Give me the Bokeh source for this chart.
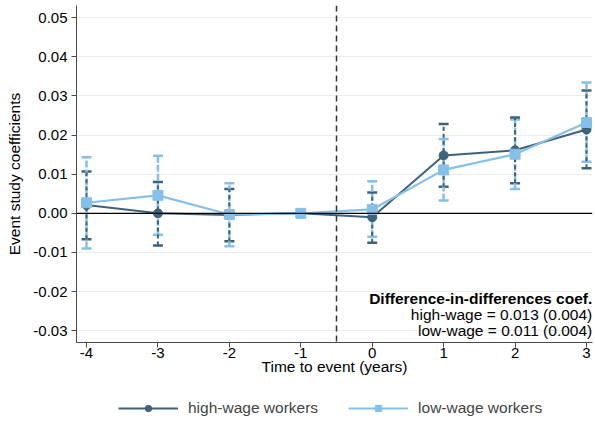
from bokeh.plotting import figure
from bokeh.layouts import column
from bokeh.models import (FixedTicker, PrintfTickFormatter, Span, Legend, LegendItem,
                          ColumnDataSource, Whisker, Label)
from bokeh.embed import file_html
from bokeh.resources import INLINE

# ---- data ----
periods = [-4, -3, -2, -1, 0, 1, 2, 3]
high_coef = [0.0021, 0.0000, -0.0004, 0.0, -0.0010, 0.0148, 0.0161, 0.0214]
high_lo = [-0.0066, -0.0082, -0.0071, None, -0.0075, 0.0068, 0.0077, 0.0115]
high_hi = [0.0107, 0.0080, 0.0062, None, 0.0053, 0.0228, 0.0245, 0.0314]
low_coef = [0.0027, 0.0046, -0.0003, 0.0, 0.0010, 0.0111, 0.0151, 0.0232]
low_lo = [-0.0090, -0.0055, -0.0084, None, -0.0060, 0.0033, 0.0062, 0.0132]
low_hi = [0.0143, 0.0147, 0.0077, None, 0.0082, 0.0190, 0.0240, 0.0334]
y_ticks = [-0.03, -0.02, -0.01, 0.0, 0.01, 0.02, 0.03, 0.04, 0.05]
x_ticks = [-4, -3, -2, -1, 0, 1, 2, 3]
event_line = -0.5
did_title = "Difference-in-differences coef."
did_high = "high-wage = 0.013 (0.004)"
did_low = "low-wage = 0.011 (0.004)"
series_names = ["high-wage workers", "low-wage workers"]

DARK = "#3e627b"
LIGHT = "#85c0e9"
FONT = "Liberation Sans"

p = figure(frame_width=516, frame_height=337, output_backend="svg", toolbar_location=None,
           x_range=(-4.14, 3.084), y_range=(-0.033, 0.0531),
           min_border_left=76, min_border_right=3, min_border_top=5, min_border_bottom=48)
p.outline_line_color = None
p.background_fill_color = "white"

# axes
p.xaxis.ticker = FixedTicker(ticks=x_ticks)
p.xaxis.formatter = PrintfTickFormatter(format="%d")
p.yaxis.ticker = FixedTicker(ticks=y_ticks)
p.yaxis.formatter = PrintfTickFormatter(format="%.2f")
for ax in (p.xaxis[0], p.yaxis[0]):
    ax.major_label_text_font = FONT
    ax.major_label_text_font_size = "15px"
    ax.major_label_text_color = "black"
    ax.axis_label_text_font = FONT
    ax.axis_label_text_font_size = "15.5px"
    ax.axis_label_text_font_style = "normal"
    ax.axis_label_text_color = "black"
    ax.axis_line_color = "#4a4a4a"
    ax.major_tick_line_color = "#4a4a4a"
    ax.major_tick_out = 5
    ax.major_tick_in = 0
    ax.minor_tick_line_color = None
p.xaxis.axis_label = "Time to event (years)"
p.yaxis.axis_label = "Event study coefficients"
p.xaxis.major_label_standoff = 0
p.xaxis.axis_label_standoff = -3
p.yaxis.major_label_standoff = 4
p.yaxis.axis_label_standoff = 7

p.xgrid.grid_line_color = None
p.ygrid.ticker = FixedTicker(ticks=y_ticks)
p.ygrid.grid_line_color = "#e6eef3"
p.ygrid.grid_line_width = 1

# reference lines
p.add_layout(Span(location=0, dimension="width", line_color="black", line_width=1.2))
p.add_layout(Span(location=event_line, dimension="height", line_color="#333333",
                  line_width=1.5, line_dash="6 4"))

# confidence intervals
def ci_source(lo, hi):
    xs, los, his = [], [], []
    for x, l, h in zip(periods, lo, hi):
        if l is not None:
            xs.append(x); los.append(l); his.append(h)
    return ColumnDataSource(dict(x=xs, lo=los, hi=his))

src_low = ci_source(low_lo, low_hi)
src_high = ci_source(high_lo, high_hi)

p.segment(x0="x", y0="lo", x1="x", y1="hi", source=src_low, line_color=LIGHT,
          line_width=2.5, line_dash="7 2")
p.segment(x0="x", y0="lo", x1="x", y1="hi", source=src_high, line_color=DARK,
          line_width=2, line_dash="4 3")
for src, col in ((src_low, LIGHT), (src_high, DARK)):
    w = Whisker(base="x", lower="lo", upper="hi", source=src, line_color=col,
                line_width=0, line_alpha=0)
    w.upper_head.size = 10
    w.lower_head.size = 10
    w.upper_head.line_color = col
    w.lower_head.line_color = col
    w.upper_head.line_width = 2.5
    w.lower_head.line_width = 2.5
    p.add_layout(w)

# series
HL = dict(line_color=DARK, line_width=2)
HS = dict(marker="circle", size=9, fill_color=DARK, line_color=DARK)
LL = dict(line_color=LIGHT, line_width=2.2)
LS = dict(marker="square", size=10, fill_color=LIGHT, line_color=LIGHT)
p.line(periods, high_coef, **HL)
p.scatter(periods, high_coef, **HS)
p.line(periods, low_coef, **LL)
p.scatter(periods, low_coef, **LS)

# DiD annotation
for txt, yv, style in ((did_title, -0.0217, "bold"), (did_high, -0.0258, "normal"),
                       (did_low, -0.0299, "normal")):
    p.add_layout(Label(x=3.08, y=yv, text=txt, text_align="right", text_baseline="middle",
                       text_font=FONT, text_font_size="15.5px", text_font_style=style,
                       text_color="black"))

# legend strip (separate figure below the plot; legend proxies hold NaN only)
lg = figure(width=595, height=31, output_backend="svg", toolbar_location=None,
            x_range=(0, 1), y_range=(0, 1), min_border=0,
            x_axis_location=None, y_axis_location=None)
lg.grid.visible = False
lg.outline_line_color = None
nan = float("nan")
def proxy():
    return ColumnDataSource(dict(x=[nan], y=[nan]))
hl = lg.line(x="x", y="y", source=proxy(), **HL)
hs = lg.scatter(x="x", y="y", source=proxy(), **HS)
ll = lg.line(x="x", y="y", source=proxy(), **LL)
ls = lg.scatter(x="x", y="y", source=proxy(), **LS)
legend = Legend(items=[LegendItem(label=series_names[0], renderers=[hl, hs]),
                       LegendItem(label=series_names[1], renderers=[ll, ls])],
                orientation="horizontal", location=(42, 4),
                label_text_font=FONT, label_text_font_size="15.5px",
                glyph_width=60, glyph_height=16, spacing=30, padding=2, margin=0,
                border_line_color=None, background_fill_alpha=0, label_standoff=10)
lg.add_layout(legend, "center")

layout = column(p, lg, spacing=0)
open("out.html", "w").write(file_html(layout, INLINE))
